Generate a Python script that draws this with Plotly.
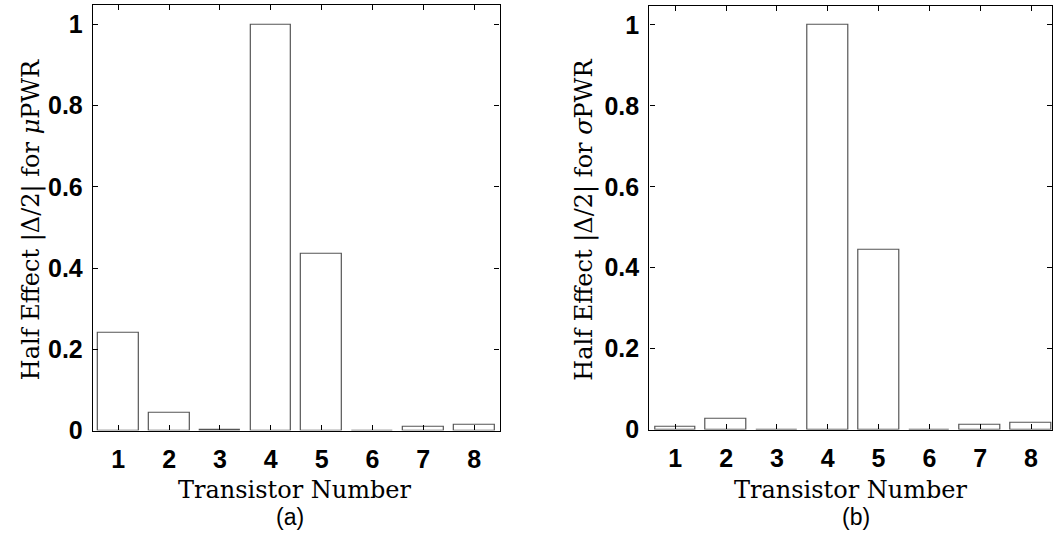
import plotly.graph_objects as go

transistors = [1, 2, 3, 4, 5, 6, 7, 8]
half_effect_mu = [0.240, 0.043, 0.001, 1.000, 0.436, 0.0005, 0.009, 0.014]
half_effect_sigma = [0.0065, 0.027, 0.0005, 1.000, 0.445, 0.0005, 0.013, 0.017]
y_ticks = [0, 0.2, 0.4, 0.6, 0.8, 1]
y_tick_text = ["0", "0.2", "0.4", "0.6", "0.8", "1"]

W, H = 1053, 543

def px(x):
    return x / W

def py(y):
    return (H - y) / H

fig = go.Figure()
bar_style = dict(marker=dict(color="white", line=dict(color="#555555", width=1.2)),
                 width=0.8, showlegend=False, hoverinfo="x+y")
fig.add_trace(go.Bar(x=transistors, y=half_effect_mu, xaxis="x", yaxis="y", **bar_style))
fig.add_trace(go.Bar(x=transistors, y=half_effect_sigma, xaxis="x2", yaxis="y2", **bar_style))

tickfont = dict(family="Liberation Sans, Arial, sans-serif", size=25, color="black", weight="bold")
common_x = dict(tickmode="array", tickvals=transistors, ticktext=[str(t) for t in transistors],
                ticks="inside", ticklen=5, tickcolor="black", showline=True, linecolor="black",
                linewidth=1.3, mirror="ticks", showgrid=False, zeroline=False,
                tickfont=tickfont, ticklabelstandoff=6)
common_y = dict(tickmode="array", tickvals=y_ticks, ticktext=y_tick_text,
                ticks="inside", ticklen=5, tickcolor="black", showline=True, linecolor="black",
                linewidth=1.3, mirror="ticks", showgrid=False, zeroline=False,
                tickfont=tickfont, ticklabelstandoff=4)

fig.update_layout(
    width=W, height=H,
    margin=dict(l=0, r=0, t=0, b=0),
    paper_bgcolor="white", plot_bgcolor="white",
    bargap=0,
    xaxis=dict(domain=[px(93), px(500)], range=[0.5, 8.5], anchor="y", **common_x),
    yaxis=dict(domain=[py(442), py(5)], range=[0, 1.048], anchor="x", **common_y),
    xaxis2=dict(domain=[px(650), 1.0], range=[0.49, 8.413], anchor="y2", **common_x),
    yaxis2=dict(domain=[py(441), py(6)], range=[0, 1.047], anchor="x2", **common_y),
)

title_font = dict(family="DejaVu Serif, Liberation Serif, serif", size=24, color="black")
cap_font = dict(family="Liberation Sans, Arial, sans-serif", size=23, color="black")

annos = [
    dict(x=px(295), y=py(503), text="Transistor Number", font=title_font, yanchor="bottom", yshift=-16),
    dict(x=px(852), y=py(503), text="Transistor Number", font=title_font, yanchor="bottom", yshift=-16),
    dict(x=px(31), y=py(225), text="Half Effect |Δ/2| for <i>μ</i>PWR", textangle=-90, font=title_font),
    dict(x=px(585), y=py(225), text="Half Effect |Δ/2| for <i>σ</i>PWR", textangle=-90, font=title_font),
    dict(x=px(290), y=py(531), text="(a)", font=cap_font),
    dict(x=px(857), y=py(531), text="(b)", font=cap_font),
]
for a in annos:
    a.setdefault("yanchor", "middle")
    fig.add_annotation(xref="paper", yref="paper", showarrow=False,
                       xanchor="center", **a)

fig.write_html("out.html")
